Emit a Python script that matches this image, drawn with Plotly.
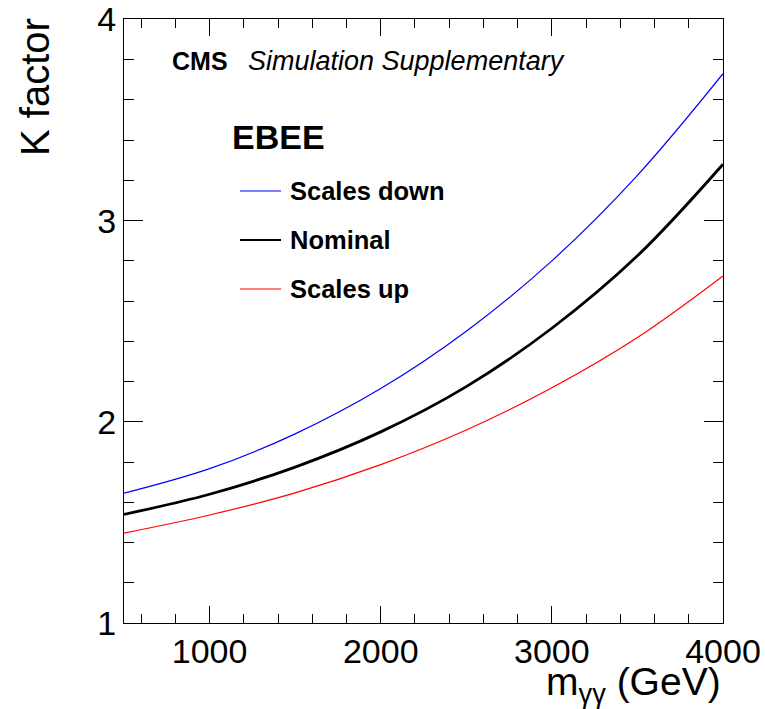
import plotly.graph_objects as go

mass = [500, 1000, 1500, 2000, 2500, 3000, 3500, 4000]
k_scales_down = [1.645, 1.767, 1.94, 2.165, 2.45, 2.80, 3.225, 3.73]
k_nominal = [1.54, 1.64, 1.775, 1.95, 2.175, 2.465, 2.825, 3.28]
k_scales_up = [1.447, 1.537, 1.647, 1.787, 1.959, 2.169, 2.419, 2.725]

x_ticks = [1000, 2000, 3000, 4000]
y_ticks = [1, 2, 3, 4]

series = [
    ("Scales down", k_scales_down, "#0000ff", 1.2),
    ("Nominal", k_nominal, "#000000", 2.8),
    ("Scales up", k_scales_up, "#ff0000", 1.2),
]

FONT = "Liberation Sans, Arial, Helvetica, sans-serif"

fig = go.Figure()
for name, vals, col, w in series:
    fig.add_trace(go.Scatter(x=mass, y=vals, mode="lines", name=name,
                             line=dict(color=col, width=w, shape="spline", smoothing=1.0),
                             showlegend=False))

axis_common = dict(showline=True, linecolor="black", linewidth=1.2, mirror="allticks",
                   ticks="inside", tickcolor="black", tickwidth=1.2,
                   showgrid=False, zeroline=False, automargin=False,
                   ticklabeloverflow="allow",
                   tickfont=dict(family=FONT, size=34, color="black"))

fig.update_xaxes(range=[500, 4000], tickmode="array", tickvals=x_ticks,
                 ticktext=[str(v) for v in x_ticks], ticklen=17,
                 minor=dict(dtick=200, tick0=0, ticklen=9, ticks="inside", tickcolor="black", showgrid=False),
                 ticklabelstandoff=-2, **axis_common)
fig.update_yaxes(range=[1, 4.002], tickmode="array", tickvals=y_ticks,
                 ticktext=[str(v) for v in y_ticks], ticklen=19,
                 minor=dict(dtick=0.2, tick0=0, ticklen=10, ticks="inside", tickcolor="black", showgrid=False),
                 **axis_common)

# Plot-area geometry (pixels) for layout placement
L, R, T, B = 124, 42, 19, 86
W, H = 765, 709
pw, ph = W - L - R, H - T - B

def px(x):
    return (x - L) / pw

def py(y):
    return (H - B - y) / ph

ann = []
ann.append(dict(text="<b>CMS</b>", x=px(170), y=py(61), xanchor="left", yanchor="middle",
                font=dict(family=FONT, size=25, color="black")))
ann.append(dict(text="<i>Simulation Supplementary</i>", x=px(246), y=py(61), xanchor="left", yanchor="middle",
                font=dict(family=FONT, size=27, color="black")))
ann.append(dict(text="<b>EBEE</b>", x=px(230), y=py(137), xanchor="left", yanchor="middle",
                font=dict(family=FONT, size=34, color="black")))
legend_y = [191, 240, 289]
shapes = []
for (name, vals, col, w), yy in zip(series, legend_y):
    shapes.append(dict(type="line", xref="paper", yref="paper", x0=px(240), x1=px(281),
                       y0=py(yy), y1=py(yy), line=dict(color=col, width=w if w < 2 else 2.2)))
    ann.append(dict(text="<b>%s</b>" % name, x=px(288), y=py(yy), xanchor="left", yanchor="middle",
                    font=dict(family=FONT, size=25.5, color="black")))
ann.append(dict(text="m<sub>γγ</sub> (GeV)", x=1.0, y=py(684), xanchor="right", yanchor="middle",
                font=dict(family=FONT, size=39, color="black")))
ann.append(dict(text="K factor", x=px(35), y=py(16), xanchor="center", yanchor="top", textangle=-90,
                font=dict(family=FONT, size=40, color="black")))
for a in ann:
    a.update(xref="paper", yref="paper", showarrow=False)

fig.update_layout(width=W, height=H, margin=dict(l=L, r=R, t=T, b=B),
                  paper_bgcolor="white", plot_bgcolor="white",
                  annotations=ann, shapes=shapes, showlegend=False)

fig.write_html("out.html")
